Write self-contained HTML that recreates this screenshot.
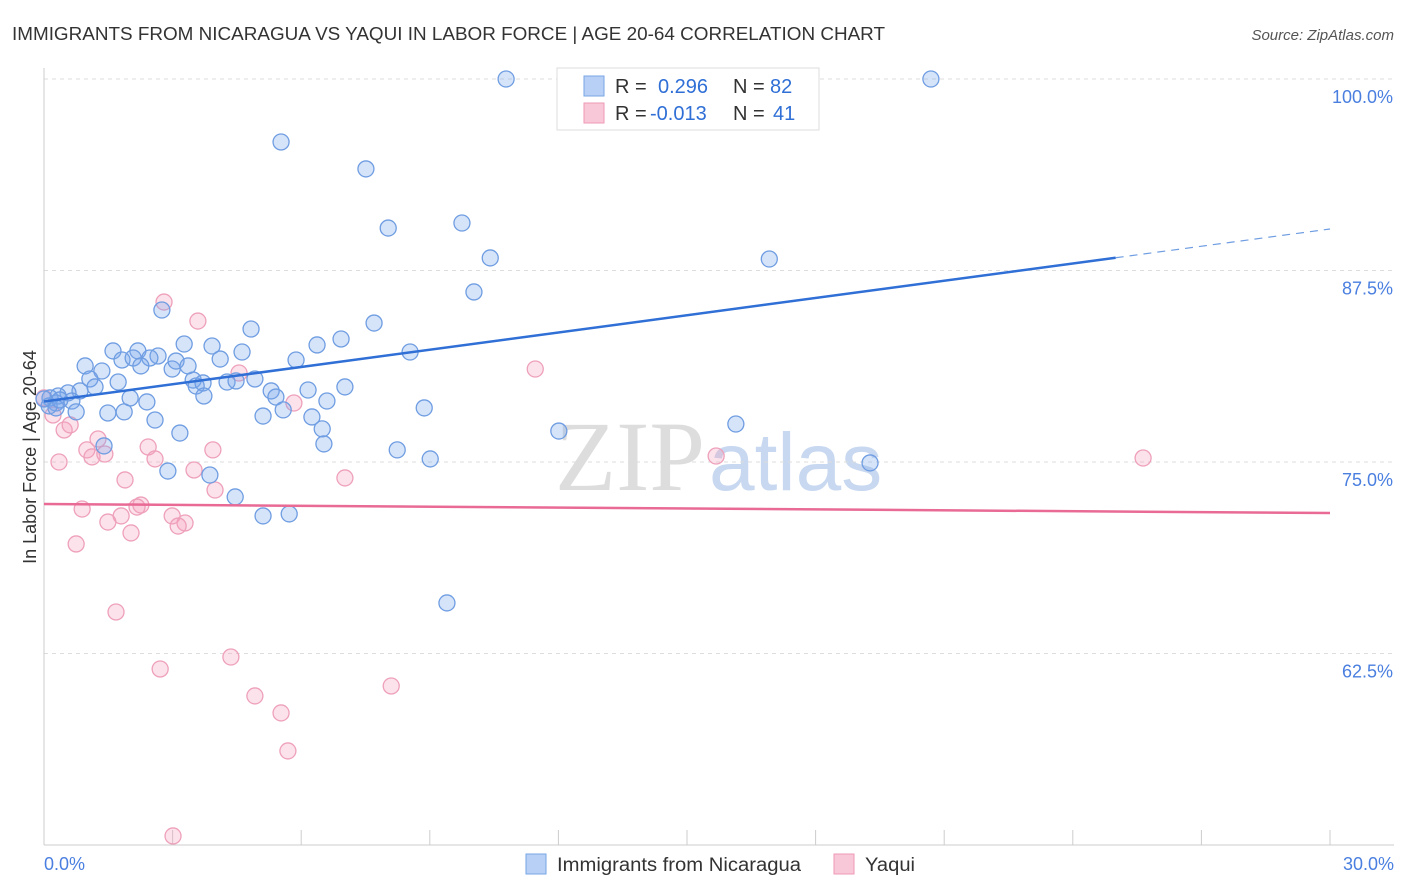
<!DOCTYPE html>
<html><head><meta charset="utf-8"><style>
body{margin:0;background:#fff;font-family:"Liberation Sans",sans-serif;}
#c{position:relative;width:1406px;height:892px;overflow:hidden;}
</style></head><body>
<div id="c">
<svg id="s" width="1406" height="892" xmlns="http://www.w3.org/2000/svg">
<text x="12" y="40" font-size="18" fill="#333" textLength="873" lengthAdjust="spacingAndGlyphs">IMMIGRANTS FROM NICARAGUA VS YAQUI IN LABOR FORCE | AGE 20-64 CORRELATION CHART</text>
<text x="1394" y="40" font-size="15" fill="#555" font-style="italic" text-anchor="end">Source: ZipAtlas.com</text>
<text x="36" y="457" font-size="18" fill="#333" text-anchor="middle" transform="rotate(-90 36 457)">In Labor Force | Age 20-64</text>
<text x="555" y="490" font-size="100" fill="#ddd" font-family="Liberation Serif,serif">ZIP<tspan fill="#c8d8f0" font-family="Liberation Sans,sans-serif" font-size="82" dx="4">atlas</tspan></text>
<g id="grid"></g><g id="pts"></g><g id="trend"></g>
<g>
<rect x="557" y="68" width="262" height="62" fill="#fff" stroke="#ddd"/>
<rect x="584" y="76" width="20" height="20" fill="#b8d0f5" stroke="#7aa5e5"/>
<rect x="584" y="103" width="20" height="20" fill="#f9c8d8" stroke="#ee9ab5"/>
<text x="615" y="93" font-size="20" fill="#333">R = <tspan fill="#2f6fd6" x="658">0.296</tspan><tspan x="733" fill="#333">N = </tspan><tspan fill="#2f6fd6" x="770">82</tspan></text>
<text x="615" y="120" font-size="20" fill="#333">R = <tspan fill="#2f6fd6" x="650">-0.013</tspan><tspan x="733" fill="#333">N = </tspan><tspan fill="#2f6fd6" x="773">41</tspan></text>
</g>
<g>
<rect x="526" y="854" width="20" height="20" fill="#b8d0f5" stroke="#7aa5e5"/>
<text x="557" y="871" font-size="19" fill="#333" textLength="244" lengthAdjust="spacingAndGlyphs">Immigrants from Nicaragua</text>
<rect x="834" y="854" width="20" height="20" fill="#f9c8d8" stroke="#ee9ab5"/>
<text x="865" y="871" font-size="19" fill="#333" textLength="50" lengthAdjust="spacingAndGlyphs">Yaqui</text>
</g>
</svg>
</div>
<script>
const yTicks=[100,87.5,75,62.5];
const xTickLabels=["0.0%","30.0%"];
const blueX=[10.78,20.69,5.53,7.51,8.03,9.75,10.41,16.92,10.03,2.75,7.70,4.83,6.93,6.37,3.27,3.92,4.62,1.61,2.19,2.66,8.54,0.96,1.82,2.08,2.47,2.26,2.99,3.08,3.36,4.11,5.88,1.35,1.07,1.73,3.48,1.19,0.84,3.55,3.71,4.27,4.48,4.92,5.30,6.16,7.02,0.56,0.33,0.14,0.28,0.65,2.01,2.40,3.73,5.41,0.12,0.28,0.75,1.49,1.87,5.11,2.59,6.25,6.60,5.58,8.87,6.49,3.17,1.40,6.53,8.24,9.01,2.89,3.87,12.01,16.14,19.27,4.46,5.11,5.72,9.40,0,0.37];
const blueY=[100,100,95.89,94.13,90.27,90.60,88.32,88.25,86.10,84.92,84.07,83.68,83.03,82.64,82.70,82.57,82.18,82.25,82.25,81.92,82.18,81.27,81.66,81.79,81.79,81.27,81.07,81.59,81.27,81.72,81.66,80.94,80.42,80.22,80.35,79.90,79.64,79.96,80.16,80.22,80.29,80.42,79.64,79.70,79.90,79.51,79.31,79.18,78.85,78.98,79.18,78.92,79.31,79.24,78.66,78.53,78.27,78.20,78.27,78.00,77.74,77.94,78.98,78.40,78.53,77.16,76.89,76.05,76.18,75.79,75.20,74.41,74.15,77.02,77.48,74.94,72.72,71.48,71.61,65.80,79.11,79.05];
const pinkX=[2.80,3.59,11.46,4.55,5.83,0,0.21,0.47,0.61,1.26,1.00,1.12,1.42,2.43,2.59,3.94,3.50,0.35,1.89,7.02,3.99,0.89,2.17,2.26,1.80,2.99,1.49,3.29,3.13,2.03,0.75,15.68,25.64,1.68,4.36,2.71,4.92,8.10,5.53,5.69,3.01];
const pinkY=[85.44,84.20,81.07,80.81,78.85,79.18,78.07,77.09,77.42,76.50,75.79,75.33,75.52,75.98,75.20,75.79,74.48,75.00,73.83,73.96,73.17,71.93,72.06,72.19,71.48,71.48,71.08,71.02,70.82,70.37,69.65,75.39,75.26,65.21,62.27,61.49,59.73,60.38,58.62,56.14,50.59];
const blueTrend=[78.95,90.21];
const pinkTrend=[72.26,71.67];
const NS="http://www.w3.org/2000/svg";
const sx=v=>44+v*(1286/30);
const sy=v=>79+(100-v)*(191.5/12.5);
function mk(t,a,p){const e=document.createElementNS(NS,t);for(const k in a)e.setAttribute(k,a[k]);p.appendChild(e);return e;}
const grid=document.getElementById('grid');
yTicks.forEach(v=>{
 const l=mk('line',{x1:44,x2:1394,y1:sy(v),y2:sy(v),stroke:'#ddd','stroke-dasharray':'4,4'},grid);
 
 
 const t=mk('text',{x:1393,y:sy(v)+24,'font-size':18,fill:'#4a7fe0','text-anchor':'end'},grid);
 t.textContent=v.toFixed(1)+'%';
 
 
});
mk('line',{x1:44,x2:44,y1:68,y2:845,stroke:'#ccc'},grid);
mk('line',{x1:44,x2:1394,y1:845,y2:845,stroke:'#ccc'},grid);
for(let i=0;i<=10;i++){const l=mk('line',{x1:sx(i*3),x2:sx(i*3),y1:830,y2:845,stroke:'#ccc'},grid);
 
 }
[[0,'start',44],[1,'end',1394]].forEach(([i,a,x])=>{const t=mk('text',{x:x,y:870,'font-size':18,fill:'#4a7fe0','text-anchor':a},grid);t.textContent=xTickLabels[i];
 
 });
const pts=document.getElementById('pts');
pinkX.forEach((x,i)=>{const c=mk('circle',{cx:sx(x),cy:sy(pinkY[i]),r:8,fill:'rgba(244,160,190,0.3)',stroke:'#eea0bb','stroke-width':1.3},pts);
 
 });
blueX.forEach((x,i)=>{const c=mk('circle',{cx:sx(x),cy:sy(blueY[i]),r:8,fill:'rgba(120,165,235,0.3)',stroke:'#6f9de2','stroke-width':1.3},pts);
 
 });
const tr=document.getElementById('trend');
const by=x=>blueTrend[0]+(blueTrend[1]-blueTrend[0])*x/30;
const b1=mk('line',{x1:sx(0),y1:sy(by(0)),x2:sx(25),y2:sy(by(25)),stroke:'#2f6fd6','stroke-width':2.5},tr);


const b2=mk('line',{x1:sx(25),y1:sy(by(25)),x2:sx(30),y2:sy(by(30)),stroke:'#6f9de2','stroke-width':1.2,'stroke-dasharray':'8,6'},tr);


const p1=mk('line',{x1:sx(0),y1:sy(pinkTrend[0]),x2:sx(30),y2:sy(pinkTrend[1]),stroke:'#e86a95','stroke-width':2.5},tr);


</script>
</body></html>
